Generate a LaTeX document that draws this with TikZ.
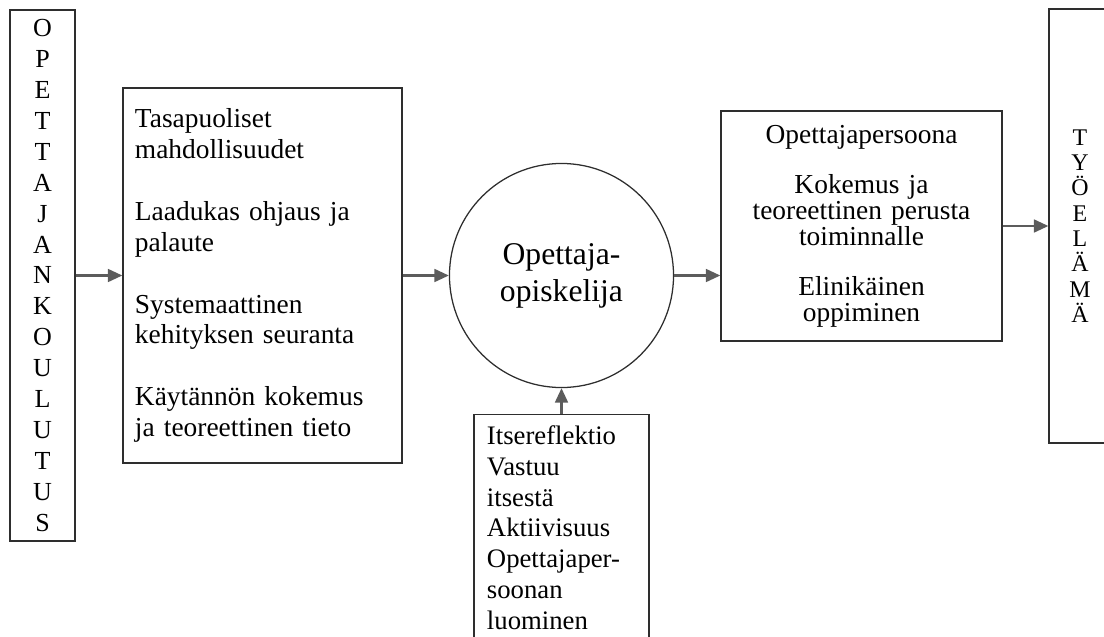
\documentclass[tikz,border=0pt]{standalone}
\usepackage{fontspec}
\setmainfont{Liberation Serif}
\usepackage{xcolor}
\usepackage{tikz}
\usetikzlibrary{arrows.meta,positioning}
\definecolor{KoulutusInk}{HTML}{2E2E2E}
\definecolor{KoulutusArrow}{HTML}{5C5C5C}
\tikzset{
  box/.style={draw=KoulutusInk,line width=0.9pt,inner sep=0pt},
  flow/.style={draw=KoulutusArrow,line width=1.6pt,-{Triangle[length=0.36cm,width=0.32cm]}},
}

\begin{document}
\begin{tikzpicture}[x=0.025cm,y=-0.025cm]
    \useasboundingbox (0,0) rectangle (1104,637);
    \clip (0,0) rectangle (1104,637);
    \node[box,minimum width=1.625cm,minimum height=13.275cm,align=center,font=\fontsize{18.5}{22}\selectfont] (opkoulutus) at (42.5,275.5) {O\\P\\E\\T\\T\\A\\J\\A\\N\\K\\O\\U\\L\\U\\T\\U\\S};
    \node[box,minimum width=6.975cm,minimum height=9.375cm,text width=6.375cm,align=left,font=\fontsize{19.5}{22}\selectfont] (tuki) at (262.5,275.5) {Tasapuoliset\\mahdollisuudet\\[22pt]Laadukas ohjaus ja\\palaute\\[22pt]Systemaattinen\\kehityksen seuranta\\[22pt]Käytännön kokemus\\ja teoreettinen tieto};
    \node[box,circle,minimum size=5.6cm,align=center,font=\fontsize{22.5}{26.3}\selectfont] (opiskelija) at (561.5,275.5) {Opettaja-\\opiskelija};
    \node[box,anchor=north,minimum width=4.375cm,minimum height=5.65cm,text width=3.725cm,align=left,font=\fontsize{19}{22}\selectfont] (itse) at (561.5,414) {Itsereflektio\\Vastuu\\itsestä\\Aktiivisuus\\Opettajaper-\\soonan\\luominen};
    \node[box,minimum width=7.025cm,minimum height=5.75cm,text width=6.375cm,align=center,font=\fontsize{19.5}{18.3}\selectfont] (persoona) at (861.5,226) {Opettajapersoona\\[17.5pt]Kokemus ja\\teoreettinen perusta\\toiminnalle\\[17.5pt]Elinikäinen\\oppiminen};
    \node[box,minimum width=1.55cm,minimum height=10.85cm,align=center,font=\fontsize{17}{18}\selectfont] (tyoelama) at (1080,226) {T\\Y\\Ö\\E\\L\\Ä\\M\\Ä};
    \draw[flow] (opkoulutus) -- (tuki);
    \draw[flow] (tuki) -- (opiskelija);
    \draw[flow] (opiskelija.east) -- (opiskelija.east -| persoona.west);
    \draw[flow] (persoona) -- (tyoelama);
    \draw[flow] (itse) -- (opiskelija);
  \end{tikzpicture}
\end{document}
